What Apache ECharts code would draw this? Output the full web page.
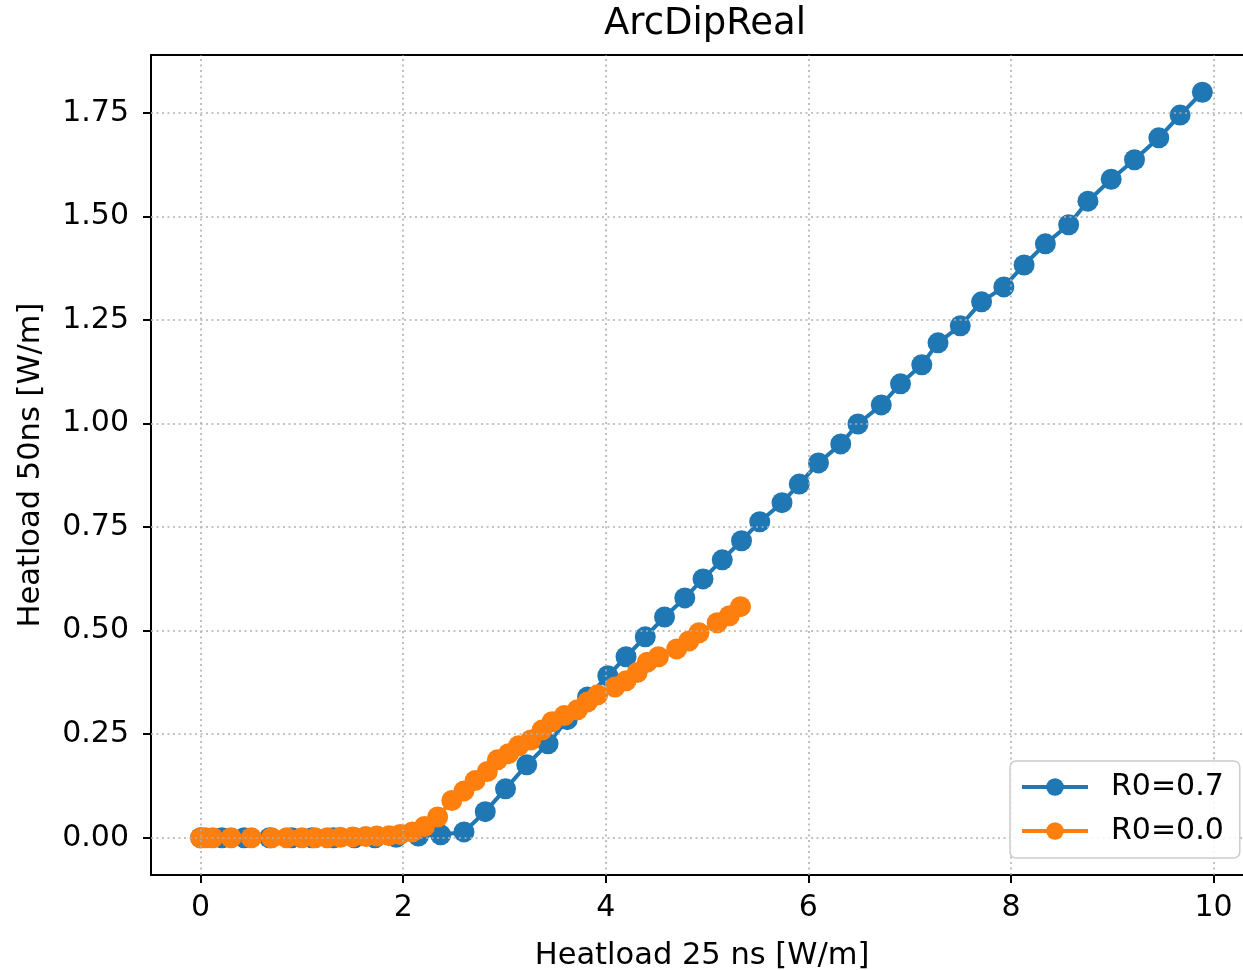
<!DOCTYPE html>
<html>
<head>
<meta charset="utf-8">
<script src="https://cdn.jsdelivr.net/npm/echarts@6/dist/echarts.min.js"></script>
<style>
html,body{margin:0;padding:0;background:#fff;overflow:hidden;}
#chart{width:1262px;height:970px;}
</style>
</head>
<body>
<div id="chart"></div>
<script>
const titleText = "ArcDipReal";
const xAxisName = "Heatload 25 ns [W/m]";
const yAxisName = "Heatload 50ns [W/m]";
const seriesNames = ["R0=0.7", "R0=0.0"];
const xTicks = [0, 2, 4, 6, 8, 10];
const yTicks = [0, 0.25, 0.5, 0.75, 1.0, 1.25, 1.5, 1.75];
const xRange = [-0.49, 10.39];
const yRange = [-0.09, 1.89];

const blueX = [0.0, 0.21, 0.43, 0.68, 0.90, 1.10, 1.31, 1.52, 1.72, 1.93,
  2.15, 2.37, 2.60, 2.81, 3.01, 3.22, 3.43, 3.62, 3.82, 4.02,
  4.20, 4.39, 4.58, 4.78, 4.96, 5.15, 5.34, 5.52, 5.74, 5.91,
  6.10, 6.32, 6.49, 6.72, 6.91, 7.12, 7.28, 7.50, 7.71, 7.93,
  8.13, 8.34, 8.57, 8.76, 8.99, 9.22, 9.46, 9.67, 9.89];
const blueY = [0, 0, 0, 0, 0, 0, 0, 0, 0, 0.001,
  0.004, 0.007, 0.014, 0.063, 0.118, 0.176, 0.227, 0.285, 0.340, 0.391,
  0.437, 0.485, 0.533, 0.579, 0.625, 0.671, 0.717, 0.763, 0.809, 0.854,
  0.905, 0.951, 0.999, 1.045, 1.096, 1.142, 1.195, 1.236, 1.294, 1.330,
  1.383, 1.434, 1.480, 1.537, 1.590, 1.637, 1.690, 1.745, 1.800];

const orangeX = [0.0, 0.05, 0.12, 0.30, 0.50, 0.70, 0.85, 1.00, 1.13, 1.25,
  1.38, 1.50, 1.63, 1.74, 1.86, 1.97, 2.09, 2.21, 2.34, 2.48,
  2.60, 2.71, 2.83, 2.93, 3.04, 3.14, 3.26, 3.37, 3.47, 3.59,
  3.72, 3.82, 3.92, 4.09, 4.20, 4.31, 4.41, 4.52, 4.70, 4.82,
  4.92, 5.10, 5.22, 5.33];
const orangeY = [0, 0, 0, 0, 0, 0, 0, 0, 0, 0,
  0.001, 0.002, 0.003, 0.004, 0.005, 0.008, 0.014, 0.027, 0.05, 0.09,
  0.113, 0.138, 0.16, 0.188, 0.203, 0.222, 0.236, 0.26, 0.28, 0.295,
  0.309, 0.328, 0.345, 0.364, 0.379, 0.399, 0.424, 0.437, 0.456, 0.475,
  0.495, 0.519, 0.536, 0.558];

const colors = ['#1f77b4', '#ff7f0e'];
const font = 'DejaVu Sans';

function pairs(xs, ys) { return xs.map((x, i) => [x, ys[i]]); }

const chart = echarts.init(document.getElementById('chart'), null, {renderer: 'canvas'});

const gridLine = {color: '#b0b0b0', width: 1.6, type: [2, 3.5]};
const spine = {show: true, onZero: false, lineStyle: {color: '#000', width: 2}};

const option = {
  animation: false,
  backgroundColor: '#fff',
  color: colors,
  title: {
    text: titleText,
    left: 700,
    top: 1,
    textAlign: 'center',
    textStyle: {fontFamily: font, fontSize: 37, fontWeight: 'normal', color: '#000'}
  },
  legend: {
    data: seriesNames,
    orient: 'vertical',
    left: 1010,
    top: 761,
    z: 10,
    itemWidth: 66,
    itemHeight: 22,
    itemGap: 14,
    padding: [11, 16, 12, 10],
    borderColor: '#cccccc',
    borderWidth: 1.5,
    borderRadius: 6,
    backgroundColor: 'rgba(255,255,255,0.85)',
    lineStyle: {width: 4},
    textStyle: {fontFamily: font, fontSize: 30, color: '#000', padding: [0, 0, 0, 18]}
  },
  grid: {left: 151, top: 55, width: 1102, height: 820, outerBoundsMode: 'none', containLabel: false,
    show: true, borderColor: '#000', borderWidth: 2, backgroundColor: 'transparent'},
  xAxis: {
    type: 'value',
    min: xRange[0], max: xRange[1],
    name: xAxisName, nameLocation: 'middle', nameGap: 66,
    nameTextStyle: {fontFamily: font, fontSize: 30.5, color: '#000'},
    axisLine: spine,
    axisTick: {show: true, length: 8, lineStyle: {color: '#000', width: 2}, customValues: xTicks},
    axisLabel: {fontFamily: font, fontSize: 30, color: '#000', margin: 18, customValues: xTicks},
    splitLine: {show: false}
  },
  yAxis: {
    type: 'value',
    min: yRange[0], max: yRange[1],
    name: yAxisName, nameLocation: 'middle', nameGap: 104,
    nameTextStyle: {fontFamily: font, fontSize: 30.5, color: '#000'},
    axisLine: spine,
    axisTick: {show: true, length: 8, lineStyle: {color: '#000', width: 2}, customValues: yTicks},
    axisLabel: {fontFamily: font, fontSize: 30, color: '#000', margin: 22, customValues: yTicks,
      formatter: v => v.toFixed(2)},
    splitLine: {show: false}
  },
  series: [
    {
      name: '__grid', type: 'line', data: [], silent: true, z: 1,
      markLine: {
        silent: true, symbol: 'none', animation: false,
        label: {show: false},
        lineStyle: gridLine,
        emphasis: {disabled: true},
        data: xTicks.map(v => ({xAxis: v})).concat(yTicks.map(v => ({yAxis: v})))
      }
    },
    {
      name: seriesNames[0], type: 'line', z: 3,
      data: pairs(blueX, blueY),
      symbol: 'circle', symbolSize: 21, showAllSymbol: true,
      lineStyle: {width: 4, color: colors[0]},
      itemStyle: {color: colors[0]}
    },
    {
      name: seriesNames[1], type: 'line', z: 4,
      data: pairs(orangeX, orangeY),
      symbol: 'circle', symbolSize: 21, showAllSymbol: true,
      lineStyle: {width: 4, color: colors[1]},
      itemStyle: {color: colors[1]}
    }
  ]
};
chart.setOption(option);
</script>
</body>
</html>
